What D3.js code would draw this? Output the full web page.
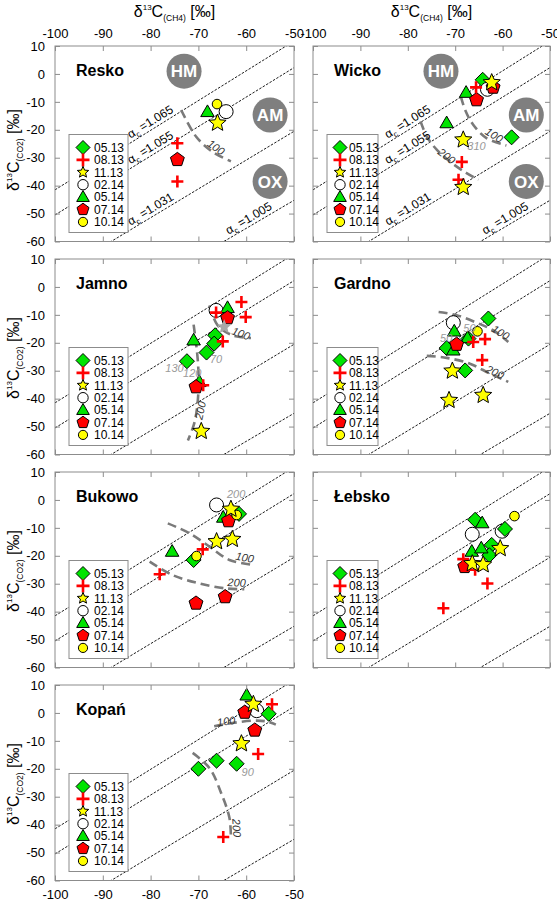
<!DOCTYPE html>
<html><head><meta charset="utf-8">
<script src="https://cdn.jsdelivr.net/npm/d3@7"></script>
<style>
body{margin:0;background:#fff}
text{font-family:"Liberation Sans",Arial,sans-serif}
</style></head>
<body><svg id="c" width="557" height="901"></svg>
<script>
// ---------------- DATA ----------------
const seriesNames = ["05.13","08.13","11.13","02.14","05.14","07.14","10.14"];
const lakes = ["Resko","Wicko","Jamno","Gardno","Bukowo","Łebsko","Kopań"];
const xTicks = [-100,-90,-80,-70,-60,-50];
const yTicks = [10,0,-10,-20,-30,-40,-50,-60];
const alphas = [1.065,1.055,1.031,1.005];
const alphaLabelCH4 = [-84,-84,-84,-63.5];
const zones = ["HM","AM","OX"];
const zoneCH4 = [-73,-55,-55];
const zoneCO2 = [1,-14.7,-38.5];

// points: [series, δ13C-CH4, δ13C-CO2]
const reskoPts = [
 ["05.14",-68.1,-13.6],["10.14",-66.1,-10.8],["02.14",-64.2,-13.5],
 ["07.14",-74.4,-30.7],["08.13",-74.4,-24.8],["08.13",-74.4,-38.5],["11.13",-66,-17.6]];
const wickoPts = [
 ["05.14",-67.7,-6.7],["05.14",-71.8,-17.6],["05.13",-64.2,-2.1],["05.13",-58.1,-22.7],
 ["02.14",-63.2,-5.5],["07.14",-65.5,-9.3],["07.14",-62,-4.8],
 ["08.13",-65.6,-4.8],["08.13",-68.6,-31.5],["08.13",-69.3,-37.9],
 ["11.13",-62.3,-3.1],["11.13",-68.3,-23.6],["11.13",-68.3,-40.6]];
const jamnoPts = [
 ["02.14",-66.3,-8.4],
 ["05.13",-66.5,-17.3],["05.13",-66.7,-20.3],["05.13",-68.3,-23.5],["05.13",-72.4,-26.6],
 ["05.14",-63.9,-7.5],["05.14",-71,-19.1],["05.14",-69.8,-34],
 ["07.14",-63.9,-11.1],["07.14",-70.5,-35.8],
 ["08.13",-66.3,-9.2],["08.13",-61,-5.4],["08.13",-60.1,-10.8],["08.13",-64.9,-19.5],["08.13",-69,-35.2],
 ["11.13",-69.4,-51.7]];
const jamnoGreyStars = [[-64.6,-14.3]];
const gardnoPts = [
 ["02.14",-70.4,-12.8],
 ["05.13",-63,-11.3],["05.13",-71.8,-21.9],["05.13",-67.9,-29.9],["05.13",-67.2,-18.5],
 ["05.14",-70.2,-15.9],["05.14",-70.4,-22.7],["05.14",-67.4,-18.3],
 ["10.14",-65.3,-15.9],["07.14",-69.7,-20.6],
 ["08.13",-66.2,-19.7],["08.13",-63.7,-18.7],["08.13",-64.3,-26.2],
 ["11.13",-70.6,-30.1],["11.13",-71.3,-40.6],["11.13",-64.1,-38.8]];
const bukowoPts = [
 ["02.14",-66.2,-1.8],
 ["05.13",-61.5,-5],["05.13",-71,-21.5],
 ["05.14",-75.5,-18.5],["05.14",-64.8,-6.3],
 ["07.14",-63.7,-7.5],["07.14",-70.5,-37],["07.14",-64.4,-34.7],
 ["10.14",-70.4,-20.1],["10.14",-62,-5.4],
 ["08.13",-78.1,-26.6],["08.13",-69.1,-17.7],
 ["11.13",-63.2,-3.3],["11.13",-66.2,-14.9],["11.13",-62.9,-14.1]];
const lebskoPts = [
 ["02.14",-66.4,-12.3],["02.14",-60.1,-11.2],
 ["05.13",-65.8,-7.1],["05.13",-59.5,-10.4],["05.13",-62.3,-16.1],["05.13",-62.8,-19.8],
 ["05.14",-64.3,-8.3],["05.14",-66.5,-18.5],["05.14",-64.5,-17.3],
 ["10.14",-57.5,-5.8],["07.14",-68,-23.9],
 ["08.13",-68.3,-21.2],["08.13",-65.8,-25],["08.13",-63.2,-29.9],["08.13",-72.5,-38.8],
 ["11.13",-66.4,-22.8],["11.13",-60.5,-17.4],["11.13",-64.1,-23.2]];
const kopanPts = [
 ["02.14",-57.8,0.8],["05.14",-59.9,6.3],
 ["05.13",-70,-20],["05.13",-66.2,-17.1],["05.13",-62,-18.2],["05.13",-55.3,-0.3],
 ["07.14",-60.3,0.2],["07.14",-58.2,-6.2],
 ["08.13",-54.6,3.1],["08.13",-57.5,-14.7],["08.13",-64.8,-44.4],
 ["11.13",-58.5,3.1],["11.13",-61,-11]];

// dashed curves (δ13C-CH4, δ13C-CO2)
const reskoCurves = [[[-73.6,-12.9],[-70.5,-22.4],[-67.1,-27.8],[-63.2,-31.3]]];
const wickoCurves = [
 [[-68.8,-8.1],[-67.9,-12.9],[-66.2,-18.2],[-63.4,-23],[-59.2,-25.6]],
 [[-77.3,-17],[-76,-22.4],[-73.9,-27.1],[-70.7,-31.9],[-67.6,-35.5],[-65.1,-37.9]]];
const jamnoCurves = [
 [[-67.7,-6.6],[-66,-13.7],[-62.9,-17.3],[-59,-18.3]],
 [[-71,-13.5],[-70.1,-26.9],[-70,-37.6],[-70.8,-48.4],[-72.2,-55]]];
const gardnoCurves = [
 [[-73.5,-9],[-69.7,-10.1],[-65.5,-12.8],[-62,-15.5],[-58.8,-19.7]],
 [[-76,-24.7],[-71.8,-25.4],[-66.9,-27.5],[-62.7,-31],[-58.8,-34]]];
const bukowoCurves = [
 [[-76.4,-8.4],[-71.9,-11.9],[-67.7,-16.7],[-63.5,-21.5],[-58.3,-23.3]],
 [[-80.2,-22.1],[-75.4,-26.9],[-69.8,-29.9],[-64.2,-31.7],[-60.4,-32]]];
const lebskoCurves = [];
const kopanCurves = [
 [[-66.7,-4.8],[-62.9,-3.6],[-58.7,-2.8],[-55.9,-3],[-53.8,-4.2]],
 [[-71.2,-14.3],[-67.7,-19.7],[-65.1,-29.3],[-63.5,-37.6],[-63.2,-44.8]]];

// notes: [text, δ13C-CH4, δ13C-CO2, kind]
const reskoNotes = [["100",-66.3,-26.3,"curve"]];
const wickoNotes = [["100",-61.8,-21.9,"curve"],["200",-71.8,-29.4,"curve"],["310",-65.5,-25.7,"sample"]];
const jamnoNotes = [["100",-61.1,-16.7,"curve"],["200",-69.6,-44.2,"curve"],["70",-66.3,-25.9,"sample"],["130",-75,-29,"sample"],["120",-71.3,-30.7,"sample"]];
const gardnoNotes = [["100",-60.4,-16.3,"curve"],["200",-61.6,-30.5,"curve"],["50",-67,-14.7,"sample"],["50",-71.9,-18.5,"sample"]];
const bukowoNotes = [["200",-62.1,2,"sample"],["100",-60.3,-20.6,"curve"],["200",-62,-29.6,"curve"]];
const lebskoNotes = [];
const kopanNotes = [["100",-64.2,-3,"curve"],["90",-59.7,-21.1,"sample"],["200",-62,-41.2,"curve"]];

const lakePoints = [reskoPts,wickoPts,jamnoPts,gardnoPts,bukowoPts,lebskoPts,kopanPts];
const lakeCurves = [reskoCurves,wickoCurves,jamnoCurves,gardnoCurves,bukowoCurves,lebskoCurves,kopanCurves];
const lakeNotes = [reskoNotes,wickoNotes,jamnoNotes,gardnoNotes,bukowoNotes,lebskoNotes,kopanNotes];

// ---------------- STYLE / LAYOUT ----------------
const GREEN="#00e400", RED="#ff0000", YEL="#ffff00";
const style = {
 "05.13":{shape:"diamond",fill:GREEN,plot:7.5,leg:7},
 "08.13":{shape:"cross",fill:RED,plot:6,leg:6.5},
 "11.13":{shape:"star",fill:YEL,plot:9,leg:6},
 "02.14":{shape:"circle",fill:"#fff",plot:7,leg:5.2},
 "05.14":{shape:"triangle",fill:GREEN,plot:7.5,leg:7},
 "07.14":{shape:"pentagon",fill:RED,plot:7.3,leg:6.3},
 "10.14":{shape:"circle",fill:YEL,plot:4.8,leg:4.6}
};
const cols = [[55,294],[313,550]];
const rowTops = [46,259,472,685];
const PH = 195.5;
const FRAME="#8c8c8c";

function pts2path(p){return "M"+p.map(q=>q[0].toFixed(2)+","+q[1].toFixed(2)).join("L")+"Z";}
function shapePath(shape,r){
  if(shape==="diamond") return pts2path([[0,-r],[r,0],[0,r],[-r,0]]);
  if(shape==="cross") return `M${-r},0H${r}M0,${-r}V${r}`;
  if(shape==="star"){const p=[];for(let k=0;k<10;k++){const a=-Math.PI/2+k*Math.PI/5;const rr=k%2?r*0.45:r;p.push([rr*Math.cos(a),rr*Math.sin(a)]);}return pts2path(p);}
  if(shape==="pentagon"){const p=[];for(let k=0;k<5;k++){const a=-Math.PI/2+k*2*Math.PI/5;p.push([r*Math.cos(a),r*Math.sin(a)]);}return pts2path(p);}
  if(shape==="triangle"){const s=r*1.8,h=s*0.866;return pts2path([[0,-h*0.6],[s/2,h*0.4],[-s/2,h*0.4]]);}
  if(shape==="circle") return `M${r},0A${r},${r} 0 1,1 ${-r},0A${r},${r} 0 1,1 ${r},0Z`;
}
function drawMarker(g,name,cx,cy,legend){
  const st=style[name]; const r=legend?st.leg:st.plot;
  const p=g.append("path").attr("d",shapePath(st.shape,r)).attr("transform",`translate(${cx},${cy})`);
  if(st.shape==="cross") p.attr("fill","none").attr("stroke",st.fill).attr("stroke-width",2.6);
  else p.attr("fill",st.fill).attr("stroke","#000").attr("stroke-width",1);
  return p;
}

const svg = d3.select("#c");
const defs = svg.append("defs");

function axisTitle(sel,sub){
  sel.append("tspan").text("δ");
  sel.append("tspan").attr("font-size",8).attr("dy",-7).text("13");
  sel.append("tspan").attr("dy",7).text("C");
  sel.append("tspan").attr("font-size",8.5).attr("dy",4).text(sub);
  sel.append("tspan").attr("dy",-4).text(" [‰]");
}

lakes.forEach((name,i)=>{
  const col=i%2,row=Math.floor(i/2);
  const x=d3.scaleLinear().domain([-100,-50]).range(cols[col]);
  const y=d3.scaleLinear().domain([-60,10]).range([rowTops[row]+PH,rowTops[row]]);
  const [x0,x1]=cols[col], top=rowTops[row], bot=top+PH;
  const g=svg.append("g");
  defs.append("clipPath").attr("id","cl"+i).append("rect").attr("x",x0).attr("y",top).attr("width",x1-x0).attr("height",PH);
  const inner=g.append("g").attr("clip-path",`url(#cl${i})`);

  // fractionation lines
  alphas.forEach(a=>{
    const f=d=>a*(d+1000)-1000;
    inner.append("line").attr("x1",x(-100)).attr("y1",y(f(-100))).attr("x2",x(-50)).attr("y2",y(f(-50)))
      .attr("stroke","#000").attr("stroke-width",0.9).attr("stroke-dasharray","2.5,1.5");
  });
  // alpha labels (first row only)
  if(row===0){
    alphas.forEach((a,k)=>{
      const f=d=>a*(d+1000)-1000;
      const xa=alphaLabelCH4[k];
      const px=x(xa),py=y(f(xa));
      const ang=Math.atan2(y(f(-50))-y(f(-100)),x(-50)-x(-100))*180/Math.PI;
      const t=g.append("text").attr("transform",`translate(${px},${py}) rotate(${ang}) translate(1,-3.5)`)
        .attr("font-size",12).attr("fill","#000");
      t.append("tspan").text("α");
      t.append("tspan").attr("font-size",8).attr("dy",3).text("c");
      t.append("tspan").attr("dy",-3).text(" =" + a.toFixed(3));
    });
    zones.forEach((z,k)=>{
      g.append("circle").attr("cx",x(zoneCH4[k])).attr("cy",y(zoneCO2[k])).attr("r",17.5).attr("fill","#7f7f7f");
      g.append("text").attr("x",x(zoneCH4[k])).attr("y",y(zoneCO2[k])).attr("dy","0.36em").attr("text-anchor","middle")
        .attr("fill","#fff").attr("font-weight","bold").attr("font-size",17).text(z);
    });
  }

  // dashed curves
  const line=d3.line().x(d=>x(d[0])).y(d=>y(d[1])).curve(d3.curveCatmullRom);
  const curvesPx=[];
  lakeCurves[i].forEach(c=>{
    inner.append("path").attr("d",line(c)).attr("fill","none").attr("stroke","#7a7a7a")
      .attr("stroke-width",2.6).attr("stroke-dasharray","9,5");
    curvesPx.push(c.map(d=>[x(d[0]),y(d[1])]));
  });
  // notes
  lakeNotes[i].forEach(n=>{
    const px=x(n[1]),py=y(n[2]);
    let ang=0;
    if(n[3]==="curve"){
      let best=1e9,bc=null,bj=0;
      curvesPx.forEach(c=>c.forEach((q,j)=>{const dd=(q[0]-px)**2+(q[1]-py)**2;if(dd<best){best=dd;bc=c;bj=j;}}));
      const a=bc[Math.max(0,bj-1)],b=bc[Math.min(bc.length-1,bj+1)];
      ang=Math.atan2(b[1]-a[1],b[0]-a[0])*180/Math.PI;
      if(ang>90)ang-=180; if(ang<=-90)ang+=180;
    }
    g.append("text").attr("transform",`translate(${px},${py}) rotate(${ang})`).attr("text-anchor","middle").attr("dy","0.35em")
      .attr("font-size",11).attr("font-style","italic").attr("fill",n[3]==="curve"?"#333":"#9a9a9a").text(n[0]);
  });

  // points
  const pg=inner.append("g");
  lakePoints[i].forEach(p=>drawMarker(pg,p[0],x(p[1]),y(p[2]),false));
  if(i===2) jamnoGreyStars.forEach(p=>pg.append("path").attr("d",shapePath("star",7.5))
      .attr("transform",`translate(${x(p[0])},${y(p[1])})`).attr("fill","#a8a8a8"));

  // frame
  g.append("rect").attr("x",x0).attr("y",top).attr("width",x1-x0).attr("height",PH).attr("fill","none").attr("stroke",FRAME).attr("stroke-width",1);

  // axes (inward ticks)
  const fmt=d=>String(d);
  const ta=d3.axisTop(x).tickValues(xTicks).tickSizeInner(-5).tickSizeOuter(0).tickPadding(8).tickFormat(row===0?fmt:()=> "");
  const ba=d3.axisBottom(x).tickValues(xTicks).tickSizeInner(-5).tickSizeOuter(0).tickPadding(9).tickFormat(i===6?fmt:()=> "");
  const la=d3.axisLeft(y).tickValues(yTicks).tickSizeInner(-5).tickSizeOuter(0).tickPadding(10).tickFormat(col===0?fmt:()=> "");
  const ra=d3.axisRight(y).tickValues(yTicks).tickSizeInner(-5).tickSizeOuter(0).tickFormat(()=> "");
  [[ta,`translate(0,${top})`],[ba,`translate(0,${bot})`],[la,`translate(${x0},0)`],[ra,`translate(${x1},0)`]].forEach(([ax,tr])=>{
    const a=g.append("g").attr("transform",tr).call(ax);
    a.select(".domain").remove();
    a.selectAll("line").attr("stroke",FRAME);
    a.selectAll("text").attr("font-size",13).attr("fill","#000").attr("font-family",'"Liberation Sans",Arial,sans-serif');
  });

  // title
  g.append("text").attr("x",x0+21).attr("y",top+30).attr("font-weight","bold").attr("font-size",16).text(name);

  // legend
  const lw=col===0?59:51, lh=98;
  const lx=x0+14, ly=bot-9-lh;
  g.append("rect").attr("x",lx).attr("y",ly).attr("width",lw).attr("height",lh).attr("fill","#fff").attr("stroke",FRAME);
  seriesNames.forEach((s,k)=>{
    const yy=ly+13+k*12.4;
    drawMarker(g,s,lx+(col===0?14:13),yy,true);
    g.append("text").attr("x",lx+(col===0?25:22)).attr("y",yy).attr("dy","0.36em").attr("font-size",12).text(s);
  });

  // y axis title
  if(col===0){
    const t=g.append("text").attr("transform",`translate(19,${top+(row===0?104:99)}) rotate(-90)`).attr("text-anchor","middle").attr("font-size",16);
    axisTitle(t,"(CO2)");
  }
  if(row===0){
    const t=svg.append("text").attr("x",(x0+x1)/2).attr("y",17).attr("text-anchor","middle").attr("font-size",16);
    axisTitle(t,"(CH4)");
  }
});
</script></body></html>
